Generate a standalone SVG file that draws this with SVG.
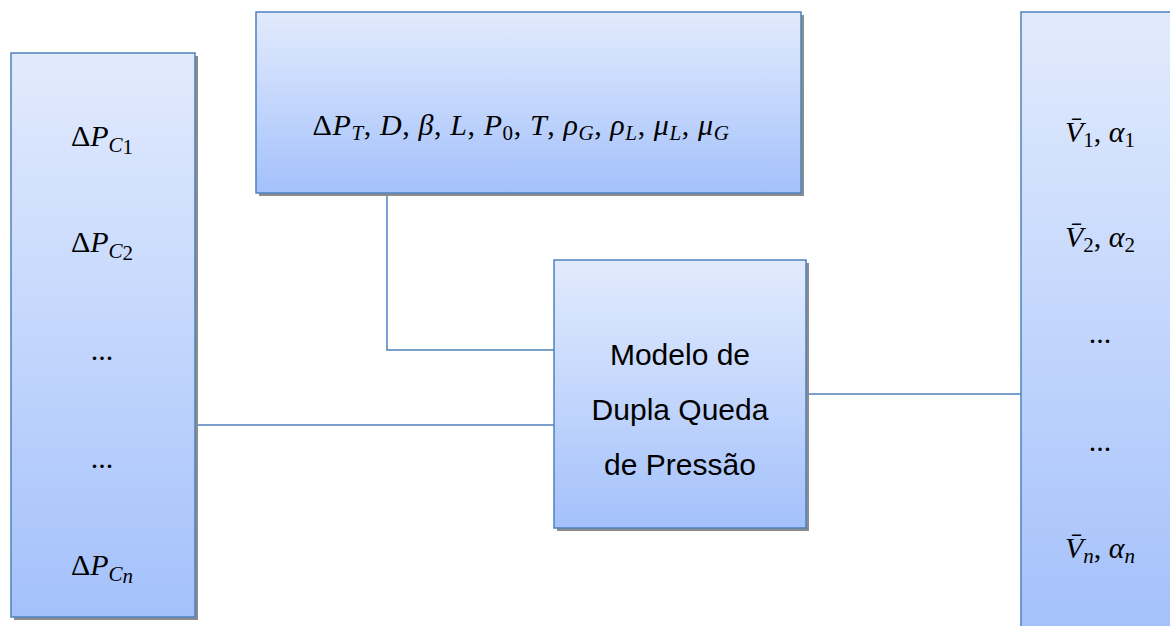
<svg xmlns="http://www.w3.org/2000/svg" width="1170" height="626" viewBox="0 0 1170 626">
<defs>
<linearGradient id="g" x1="0" y1="0" x2="0" y2="1">
<stop offset="0" stop-color="#e2ebfd"/>
<stop offset="1" stop-color="#a4c1fb"/>
</linearGradient>
</defs>
<style>
.box{fill:url(#g);stroke:#4f81bd;stroke-width:1.5}
.sh{fill:#8c8c8c}
.m{font-family:"Liberation Serif","DejaVu Serif",serif;font-style:italic;font-size:30px;fill:#000;text-anchor:middle}
.up{font-style:normal}
.s{font-size:21px}
.t{font-family:"Liberation Sans",Arial,sans-serif;font-size:30px;fill:#000;text-anchor:middle}
.c{fill:none;stroke:#4f81bd;stroke-width:1.5}
</style>
<rect width="1170" height="626" fill="#fff"/>
<g id="connectors">
<polyline class="c" points="387,193 387,350 554,350"/>
<line class="c" x1="195" y1="425" x2="554" y2="425"/>
<line class="c" x1="806" y1="394" x2="1021" y2="394"/>
</g>
<g id="inputs">
<rect class="sh" x="14" y="56" width="184" height="564"/>
<rect class="box" x="11" y="53" width="184" height="564"/>
<text class="m" x="102" y="146"><tspan class="up">Δ</tspan>P<tspan class="s" dy="6">C</tspan><tspan class="up s" dy="2">1</tspan></text>
<text class="m" x="102" y="252"><tspan class="up">Δ</tspan>P<tspan class="s" dy="6">C</tspan><tspan class="up s" dy="2">2</tspan></text>
<text class="m up" x="102" y="360">...</text>
<text class="m up" x="102" y="468">...</text>
<text class="m" x="102" y="575"><tspan class="up">Δ</tspan>P<tspan class="s" dy="6">C</tspan><tspan class="s" dy="2">n</tspan></text>
</g>
<g id="parameters">
<rect class="sh" x="259" y="15" width="545" height="181"/>
<rect class="box" x="256" y="12" width="545" height="181"/>
<text class="m" x="521" y="135" letter-spacing="0.6"><tspan class="up">Δ</tspan>P<tspan class="s" dy="5">T</tspan><tspan class="up" dy="-5">, </tspan>D<tspan class="up">, </tspan>β<tspan class="up">, </tspan>L<tspan class="up">, </tspan>P<tspan class="up s" dy="5">0</tspan><tspan class="up" dy="-5">, </tspan>T<tspan class="up">, </tspan>ρ<tspan class="s" dy="5">G</tspan><tspan class="up" dy="-5">, </tspan>ρ<tspan class="s" dy="5">L</tspan><tspan class="up" dy="-5">, </tspan>μ<tspan class="s" dy="5">L</tspan><tspan class="up" dy="-5">, </tspan>μ<tspan class="s" dy="5">G</tspan></text>
</g>
<g id="model">
<rect class="sh" x="557" y="263" width="252" height="268"/>
<rect class="box" x="554" y="260" width="252" height="268"/>
<text class="t" x="680" y="365">Modelo de</text>
<text class="t" x="680" y="420">Dupla Queda</text>
<text class="t" x="680" y="475">de Pressão</text>
</g>
<g id="outputs">
<rect class="sh" x="1024" y="15" width="160" height="620"/>
<rect class="box" x="1021" y="12" width="160" height="620"/>
<text class="m" x="1100" y="142">V̄<tspan class="up s" dy="5">1</tspan><tspan class="up" dy="-5">, </tspan>α<tspan class="up s" dy="5">1</tspan></text>
<text class="m" x="1100" y="247">V̄<tspan class="up s" dy="5">2</tspan><tspan class="up" dy="-5">, </tspan>α<tspan class="up s" dy="5">2</tspan></text>
<text class="m up" x="1100" y="343">...</text>
<text class="m up" x="1100" y="451">...</text>
<text class="m" x="1100" y="558">V̄<tspan class="s" dy="5">n</tspan><tspan class="up" dy="-5">, </tspan>α<tspan class="s" dy="5">n</tspan></text>
</g>
</svg>
